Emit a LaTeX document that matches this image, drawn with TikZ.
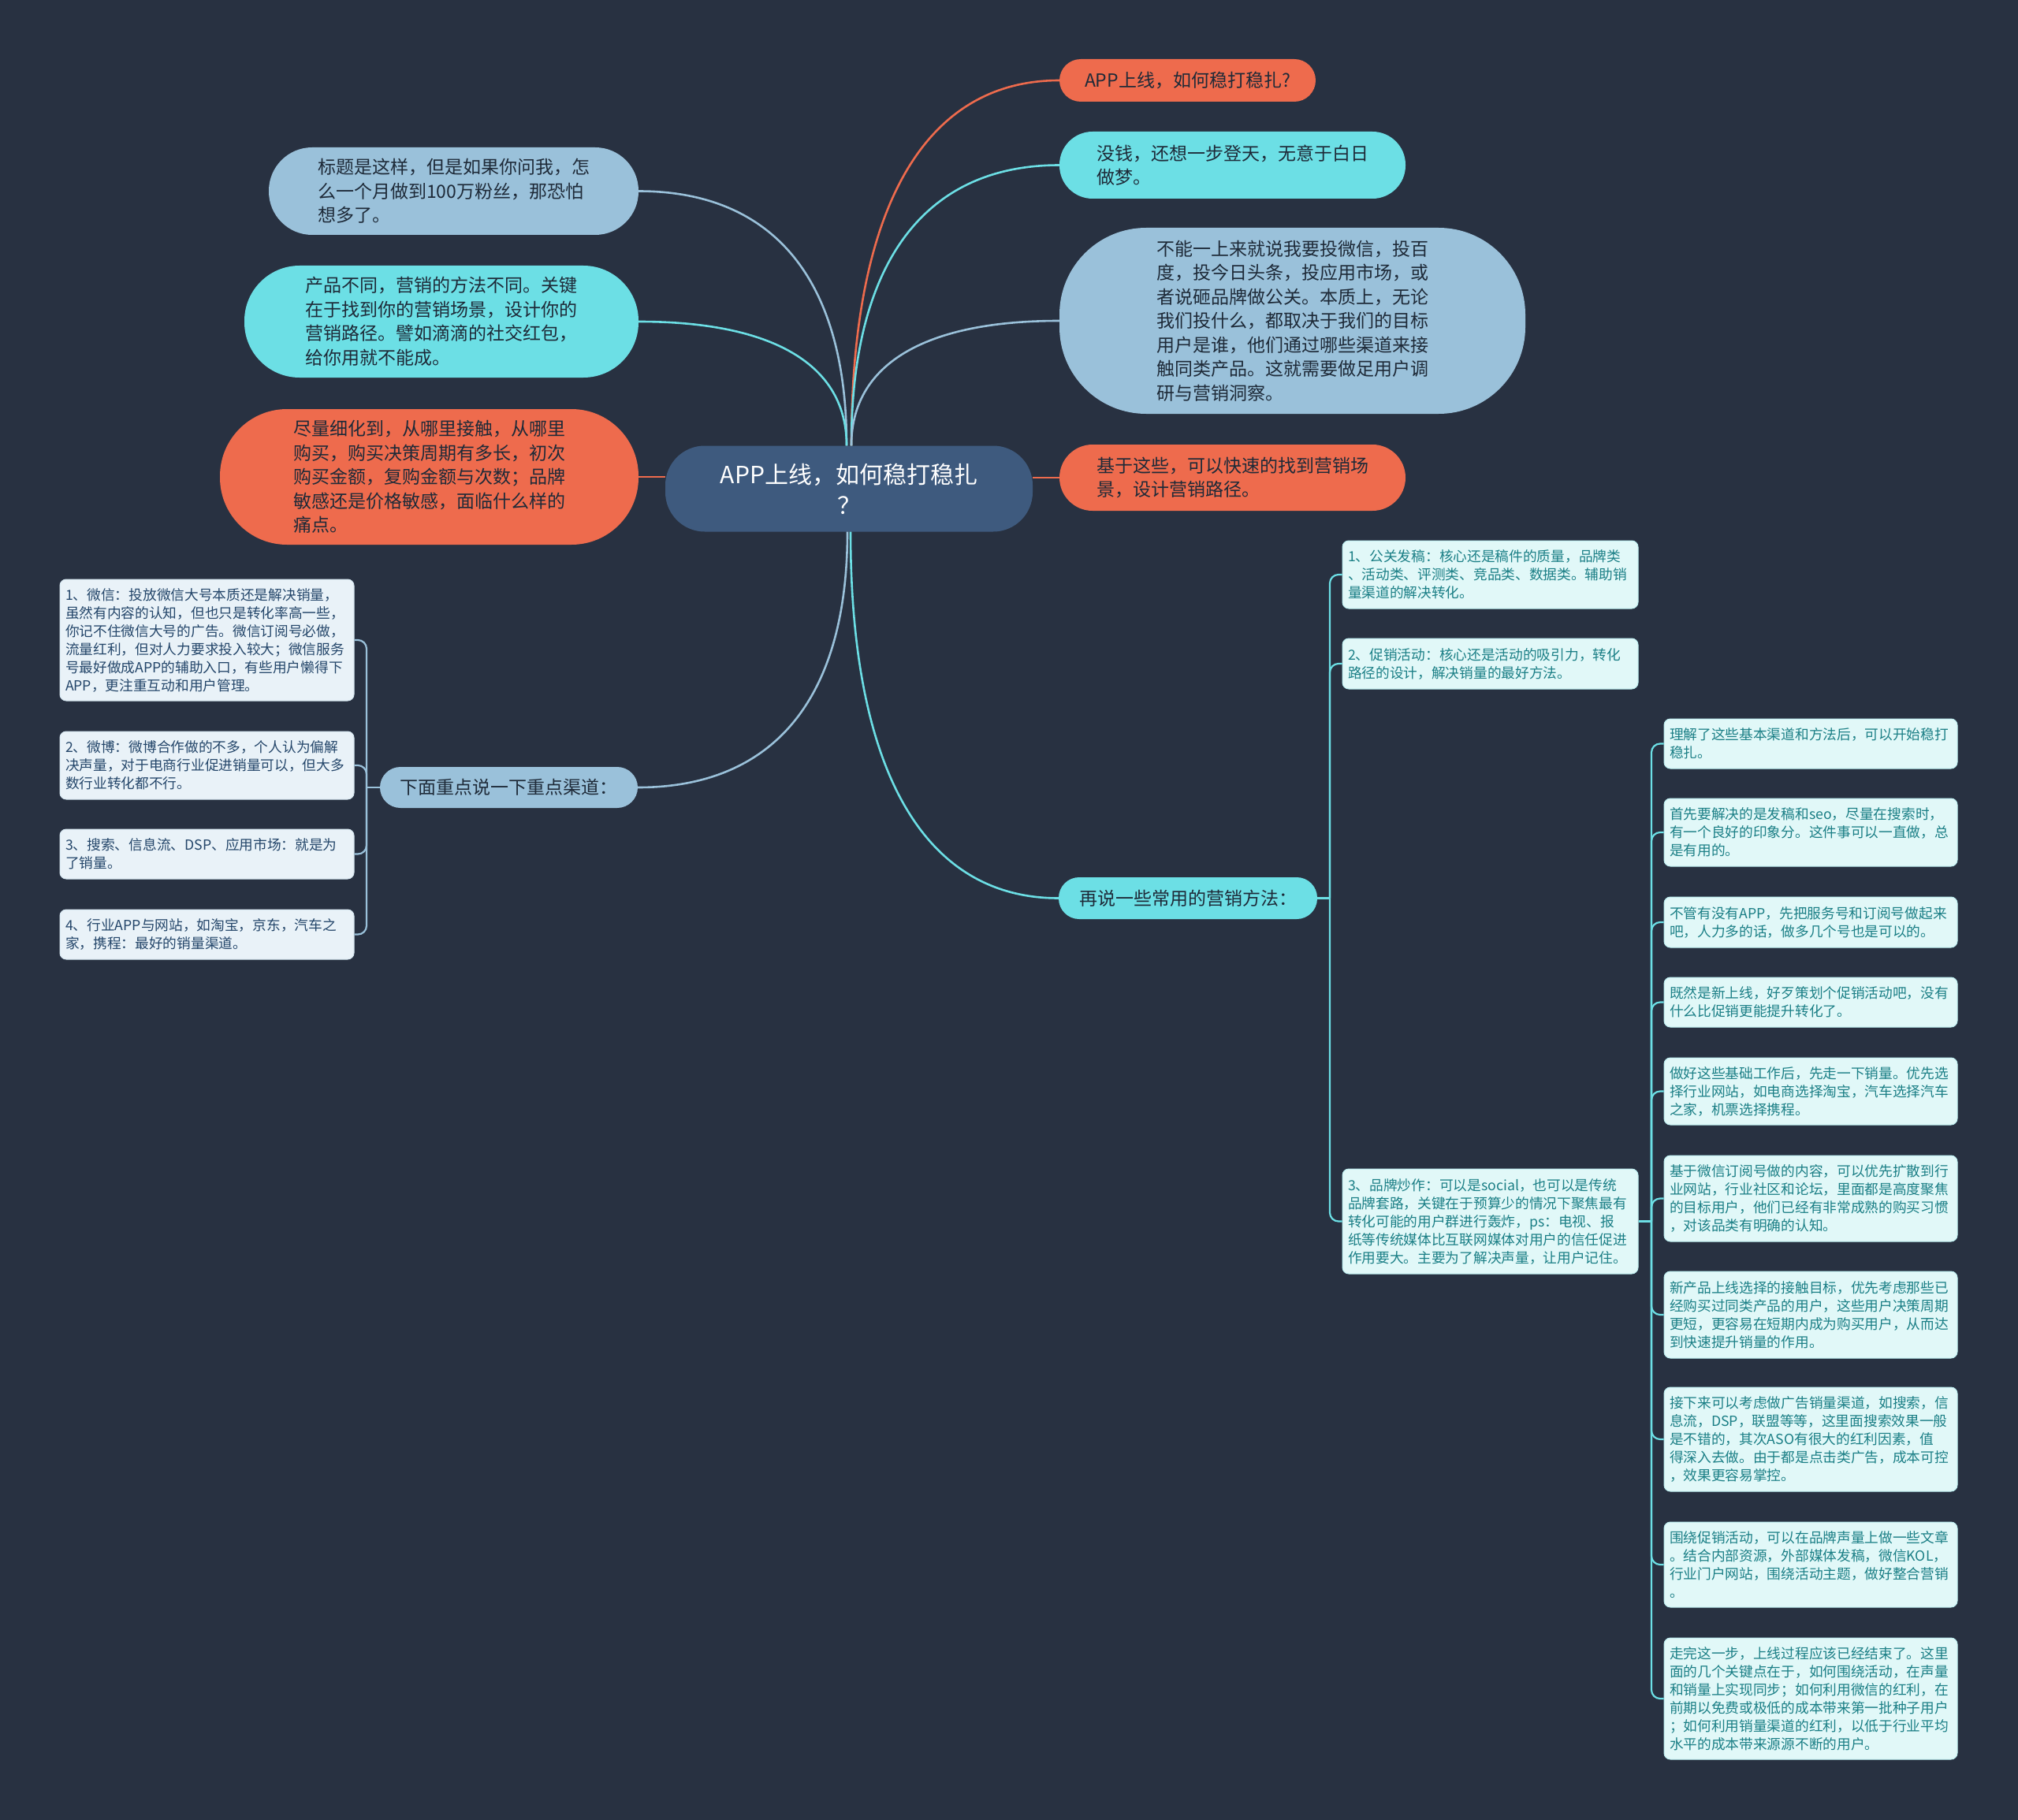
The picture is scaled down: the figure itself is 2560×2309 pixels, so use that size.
\documentclass[tikz,border=0pt]{standalone}
\usepackage{fontspec}
\setmainfont{Noto Sans CJK SC}
\usetikzlibrary{calc}
\definecolor{bgc}{HTML}{283141}
\definecolor{orc}{HTML}{EE6B4D}
\definecolor{cyc}{HTML}{6CDFE5}
\definecolor{lbc}{HTML}{9AC1DA}
\definecolor{cnc}{HTML}{3E5A7E}
\definecolor{txd}{HTML}{1E2A38}
\definecolor{llf}{HTML}{E9F2F8}
\definecolor{rlf}{HTML}{E1F8F8}
\definecolor{llt}{HTML}{24466A}
\definecolor{rlt}{HTML}{1B7F86}
\newcommand\mmcurve[3]{\draw[#1] (#2) .. controls ($(#2)!0.65!(#2|-#3)$) and ($(#2|-#3)!0.35!(#3)$) .. (#3);}
\begin{document}
\begin{tikzpicture}[x=1pt,y=-1pt,
  bubble/.style={inner sep=0pt, align=left, text=txd, font=\fontsize{23}{30.5}\selectfont},
  lleaf/.style={fill=llf, draw=llf!75!lbc, line width=1pt, rounded corners=8pt, inner xsep=7pt, inner ysep=0pt,
     text width=359pt, minimum width=373pt, align=left, text=llt, font=\fontsize{17.7}{23}\selectfont},
  rleaf/.style={fill=rlf, draw=rlf!70!cyc, line width=1pt, rounded corners=8pt, inner xsep=7pt, inner ysep=0pt,
     text width=361pt, minimum width=375pt, align=left, text=rlt, font=\fontsize{17.7}{23}\selectfont},
  mline/.style={line width=2.6pt},
  bline/.style={line width=2.2pt, rounded corners=11pt}
]
\fill[bgc] (0,0) rectangle (2560,2309);
\useasboundingbox (0,0) rectangle (2560,2309);

% center
\node[bubble, fill=cnc, text=white, align=center, minimum width=466pt, minimum height=109pt, rounded corners=50pt,
  font=\fontsize{30}{39}\selectfont] (c) at (1077,620) {APP上线，如何稳打稳扎\\？};

% right bubbles
\node[bubble, fill=orc, minimum width=325pt, minimum height=54pt, rounded corners=27pt] (r1) at (1506.5,102) {APP上线，如何稳打稳扎?};
\node[bubble, fill=cyc, minimum width=439pt, minimum height=85pt, rounded corners=42pt] (r2) at (1563.5,209.5) {没钱，还想一步登天，无意于白日\\做梦。};
\node[bubble, fill=lbc, minimum width=591pt, minimum height=236pt, rounded corners=110pt] (r3) at (1639.5,407) {不能一上来就说我要投微信，投百\\度，投今日头条，投应用市场，或\\者说砸品牌做公关。本质上，无论\\我们投什么，都取决于我们的目标\\用户是谁，他们通过哪些渠道来接\\触同类产品。这就需要做足用户调\\研与营销洞察。};
\node[bubble, fill=orc, minimum width=439pt, minimum height=84pt, rounded corners=42pt] (r4) at (1563.5,606) {基于这些，可以快速的找到营销场\\景，设计营销路径。};
\node[bubble, fill=cyc, minimum width=328pt, minimum height=53pt, rounded corners=26pt] (r5) at (1507,1139.5) {再说一些常用的营销方法：};

% left bubbles
\node[bubble, fill=lbc, minimum width=469pt, minimum height=111pt, rounded corners=55pt] (l1) at (575.5,242.5) {标题是这样，但是如果你问我，怎\\么一个月做到100万粉丝，那恐怕\\想多了。};
\node[bubble, fill=cyc, minimum width=500pt, minimum height=142pt, rounded corners=70pt] (l2) at (560,408) {产品不同，营销的方法不同。关键\\在于找到你的营销场景，设计你的\\营销路径。譬如滴滴的社交红包，\\给你用就不能成。};
\node[bubble, fill=orc, minimum width=531pt, minimum height=172pt, rounded corners=85pt] (l3) at (544.5,605) {尽量细化到，从哪里接触，从哪里\\购买，购买决策周期有多长，初次\\购买金额，复购金额与次数；品牌\\敏感还是价格敏感，面临什么样的\\痛点。};
\node[bubble, fill=lbc, minimum width=327pt, minimum height=52pt, rounded corners=26pt] (l4) at (645.5,999) {下面重点说一下重点渠道：};

% left leaves
\node[lleaf, minimum height=154pt] (ll1) at (262.5,812) {1、微信：投放微信大号本质还是解决销量，\\虽然有内容的认知，但也只是转化率高一些，\\你记不住微信大号的广告。微信订阅号必做，\\流量红利，但对人力要求投入较大；微信服务\\号最好做成APP的辅助入口，有些用户懒得下\\APP，更注重互动和用户管理。};
\node[lleaf, minimum height=86pt] (ll2) at (262.5,971) {2、微博：微博合作做的不多，个人认为偏解\\决声量，对于电商行业促进销量可以，但大多\\数行业转化都不行。};
\node[lleaf, minimum height=63pt] (ll3) at (262.5,1083.5) {3、搜索、信息流、DSP、应用市场：就是为\\了销量。};
\node[lleaf, minimum height=63pt] (ll4) at (262.5,1185.5) {4、行业APP与网站，如淘宝，京东，汽车之\\家，携程：最好的销量渠道。};

% right leaves level 1
\node[rleaf, minimum height=86pt] (ra1) at (1890.5,729) {1、公关发稿：核心还是稿件的质量，品牌类\\、活动类、评测类、竞品类、数据类。辅助销\\量渠道的解决转化。};
\node[rleaf, minimum height=64pt] (ra2) at (1890.5,842) {2、促销活动：核心还是活动的吸引力，转化\\路径的设计，解决销量的最好方法。};
\node[rleaf, minimum height=133pt] (ra3) at (1890.5,1549.5) {3、品牌炒作：可以是social，也可以是传统\\品牌套路，关键在于预算少的情况下聚焦最有\\转化可能的用户群进行轰炸，ps：电视、报\\纸等传统媒体比互联网媒体对用户的信任促进\\作用要大。主要为了解决声量，让用户记住。};

% right leaves level 2
\tikzset{sleaf/.style={rleaf, text width=358pt, minimum width=372pt}}
\node[sleaf, minimum height=63pt] (s1) at (2297,943.5) {理解了这些基本渠道和方法后，可以开始稳打\\稳扎。};
\node[sleaf, minimum height=86pt] (s2) at (2297,1056) {首先要解决的是发稿和seo，尽量在搜索时，\\有一个良好的印象分。这件事可以一直做，总\\是有用的。};
\node[sleaf, minimum height=64pt] (s3) at (2297,1170) {不管有没有APP，先把服务号和订阅号做起来\\吧，人力多的话，做多几个号也是可以的。};
\node[sleaf, minimum height=63pt] (s4) at (2297,1271.5) {既然是新上线，好歹策划个促销活动吧，没有\\什么比促销更能提升转化了。};
\node[sleaf, minimum height=85pt] (s5) at (2297,1384.5) {做好这些基础工作后，先走一下销量。优先选\\择行业网站，如电商选择淘宝，汽车选择汽车\\之家，机票选择携程。};
\node[sleaf, minimum height=109pt] (s6) at (2297,1520.5) {基于微信订阅号做的内容，可以优先扩散到行\\业网站，行业社区和论坛，里面都是高度聚焦\\的目标用户，他们已经有非常成熟的购买习惯\\，对该品类有明确的认知。};
\node[sleaf, minimum height=110pt] (s7) at (2297,1668) {新产品上线选择的接触目标，优先考虑那些已\\经购买过同类产品的用户，这些用户决策周期\\更短，更容易在短期内成为购买用户，从而达\\到快速提升销量的作用。};
\node[sleaf, minimum height=132pt] (s8) at (2297,1826) {接下来可以考虑做广告销量渠道，如搜索，信\\息流，DSP，联盟等等，这里面搜索效果一般\\是不错的，其次ASO有很大的红利因素，值\\得深入去做。由于都是点击类广告，成本可控\\，效果更容易掌控。};
\node[sleaf, minimum height=108pt] (s9) at (2297,1985) {围绕促销活动，可以在品牌声量上做一些文章\\。结合内部资源，外部媒体发稿，微信KOL，\\行业门户网站，围绕活动主题，做好整合营销\\。};
\node[sleaf, minimum height=154pt] (s10) at (2297,2155) {走完这一步，上线过程应该已经结束了。这里\\面的几个关键点在于，如何围绕活动，在声量\\和销量上实现同步；如何利用微信的红利，在\\前期以免费或极低的成本带来第一批种子用户\\；如何利用销量渠道的红利，以低于行业平均\\水平的成本带来源源不断的用户。};

% connectors from center
\coordinate (ctr) at ([xshift=3pt]c.north);
\coordinate (ctl) at ([xshift=-3pt]c.north);
\coordinate (cbr) at ([xshift=2pt]c.south);
\coordinate (cbl) at ([xshift=-2pt]c.south);
\mmcurve{mline,orc}{ctr}{r1.west}
\mmcurve{mline,cyc}{ctr}{r2.west}
\mmcurve{mline,lbc}{ctr}{r3.west}
\mmcurve{mline,lbc}{ctl}{l1.east}
\mmcurve{mline,cyc}{ctl}{l2.east}
\mmcurve{mline,lbc}{cbl}{l4.east}
\mmcurve{mline,cyc}{cbr}{r5.west}
\draw[mline,orc] (l3.east) -- (l3.east -| c.west);
\draw[mline,orc] (r4.west) -- (r4.west -| c.east);

% bracket: left leaves
\coordinate (jl) at (465,999);
\draw[mline,lbc] (l4.west) -- (jl);
\foreach \n in {ll1,ll2,ll3,ll4} {\draw[bline,lbc] (jl) |- (\n.east);}

% bracket: right leaves
\coordinate (jr) at (1687,1139.5);
\draw[mline,cyc] (r5.east) -- (jr);
\foreach \n in {ra1,ra2,ra3} {\draw[bline,cyc] (jr) |- (\n.west);}

% bracket: second level
\coordinate (js) at (2095,1549.5);
\draw[bline,cyc] (ra3.east) -- (js);
\foreach \n in {s1,s2,s3,s4,s5,s6,s7,s8,s9,s10} {\draw[bline,cyc] (js) |- (\n.west);}
\end{tikzpicture}
\end{document}
